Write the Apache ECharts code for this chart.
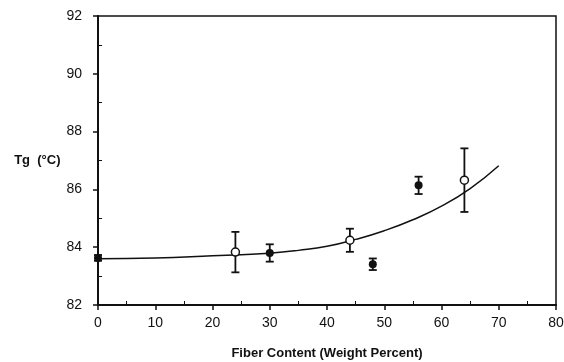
<!DOCTYPE html>
<html>
<head>
<meta charset="utf-8">
<script src="https://cdn.jsdelivr.net/npm/echarts@6/dist/echarts.min.js"></script>
<style>
  html, body { margin: 0; padding: 0; background: #fff; }
  #chart { width: 564px; height: 362px; }
</style>
</head>
<body>
<div id="chart"></div>
<script>
// measured points: [fiber %, Tg, error]
const filledPoints = [[0, 83.63, 0.1], [30, 83.8, 0.3], [48, 83.41, 0.2], [56, 86.14, 0.3]];
const openPoints = [[24, 83.83, 0.7], [44, 84.24, 0.4], [64, 86.32, 1.1]];
// fitted curve
const curveX = [0, 10, 20, 25, 30, 35, 40, 45, 50, 55, 60, 65, 70];
const curveY = [83.6, 83.63, 83.7, 83.74, 83.79, 83.89, 84.03, 84.27, 84.57, 84.95, 85.42, 86.03, 86.82];

const chart = echarts.init(document.getElementById('chart'));

const font = 'Liberation Sans, Arial, sans-serif';

const errorBars = filledPoints.concat(openPoints).map(p => [p[0], p[1] - p[2], p[1] + p[2]]);

const option = {
  animation: false,
  backgroundColor: '#fff',
  grid: {
    left: 98, right: 8, top: 16, bottom: 57,
    outerBoundsMode: 'none',
    containLabel: false,
    show: true, borderColor: '#111', borderWidth: 1.5
  },
  xAxis: {
    type: 'value',
    min: 0, max: 80, interval: 10,
    name: 'Fiber Content (Weight Percent)',
    nameLocation: 'middle',
    nameGap: 42,
    nameTextStyle: { fontFamily: font, fontWeight: 'bold', fontSize: 13, color: '#111' },
    axisLine: { lineStyle: { color: '#111', width: 2 } },
    axisTick: { inside: false, length: 5, lineStyle: { color: '#111', width: 1.5 } },
    minorTick: { show: true, splitNumber: 2, length: -4, lineStyle: { color: '#111', width: 1 } },
    axisLabel: { fontFamily: font, fontSize: 14, color: '#111', margin: 11 },
    splitLine: { show: false }
  },
  yAxis: {
    type: 'value',
    min: 82, max: 92, interval: 2,
    name: 'Tg  (°C)',
    nameLocation: 'middle',
    nameRotate: 0,
    nameGap: 36,
    nameTextStyle: { fontFamily: font, fontWeight: 'bold', fontSize: 13, color: '#111' },
    axisLine: { lineStyle: { color: '#111', width: 2 } },
    axisTick: { inside: false, length: 5, lineStyle: { color: '#111', width: 1.5 } },
    minorTick: { show: true, splitNumber: 2, length: -4, lineStyle: { color: '#111', width: 1 } },
    axisLabel: { fontFamily: font, fontSize: 14, color: '#111', margin: 16 },
    splitLine: { show: false }
  },
  series: [
    {
      type: 'line',
      data: curveX.map((x, i) => [x, curveY[i]]),
      smooth: 0.5,
      symbol: 'none',
      lineStyle: { color: '#111', width: 1.5 },
      z: 1
    },
    {
      type: 'custom',
      data: errorBars,
      renderItem: function (params, api) {
        const hi = api.coord([api.value(0), api.value(2)]);
        const lo = api.coord([api.value(0), api.value(1)]);
        const w = 4;
        const style = { stroke: '#111', lineWidth: 1.8 };
        return {
          type: 'group',
          children: [
            { type: 'line', shape: { x1: hi[0], y1: hi[1], x2: lo[0], y2: lo[1] }, style: style },
            { type: 'line', shape: { x1: hi[0] - w, y1: hi[1], x2: hi[0] + w, y2: hi[1] }, style: style },
            { type: 'line', shape: { x1: lo[0] - w, y1: lo[1], x2: lo[0] + w, y2: lo[1] }, style: style }
          ]
        };
      },
      z: 2
    },
    {
      type: 'scatter',
      data: filledPoints.map(p => [p[0], p[1]]),
      symbol: 'circle',
      symbolSize: 8,
      itemStyle: { color: '#111', opacity: 1 },
      z: 3
    },
    {
      type: 'scatter',
      data: openPoints.map(p => [p[0], p[1]]),
      symbol: 'circle',
      symbolSize: 8,
      itemStyle: { color: '#fff', borderColor: '#111', borderWidth: 1.5, opacity: 1 },
      z: 3
    }
  ]
};

chart.setOption(option);
</script>
</body>
</html>
